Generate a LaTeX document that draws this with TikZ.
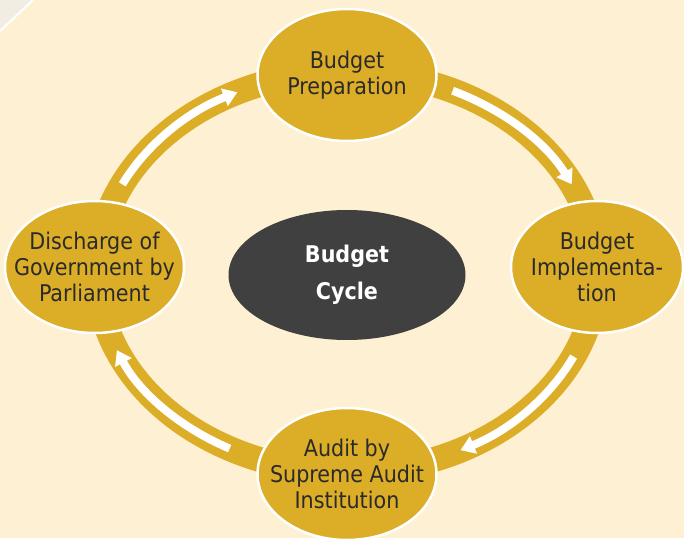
\documentclass[tikz,border=0pt]{standalone}
\usepackage{fontspec}
\setmainfont{DejaVu Sans Condensed}
\usepackage{tikz}
\usetikzlibrary{shapes.geometric}
\usetikzlibrary{arrows.meta}

\definecolor{cream}{HTML}{FEF0D3}
\definecolor{gold}{HTML}{DCAD27}
\definecolor{coal}{HTML}{404040}
\definecolor{ink}{HTML}{2A2A2A}
\definecolor{cornergrey}{HTML}{F1EDE2}

\begin{document}
\begin{tikzpicture} [
    x=1pt, y=1pt,
    ]
% -------------------------------------------------
\tikzset{
  txt/.style={align=center, text=ink, font=\fontsize{23}{26}\selectfont},
  stage/.style={ellipse, draw=white, line width=2.5pt, fill=gold, inner sep=0pt,
                minimum width=179pt, minimum height=132pt},
  core/.style={ellipse, fill=coal, inner sep=0pt, align=center, text=white,
               font=\bfseries\fontsize{23}{37}\selectfont,
               minimum width=237pt, minimum height=130pt},
  ring/.style={draw=gold, line width=25pt},
  flow/.style={draw=white, line width=8pt, -{Triangle[width=18pt,length=14pt]}}
}

    \useasboundingbox (0,0) rectangle (684,538);
    \fill[cream] (0,0) rectangle (684,538);                          % page
    \fill[cornergrey] (0,538) -- (0,507) -- (33,538) -- cycle;        % corner fold
    \draw[white, line width=2pt] (0,507) -- (33,538);

    \coordinate (mid) at (347,266);                                   % centre of the cycle

    \path [ring] (mid) ellipse [x radius=250, y radius=200];

    \foreach \s/\e in {154/116, 65/26, -25/-63, -118/-157}
      \path [flow] (mid) ++(\s:250 and 200)
            arc [start angle=\s, end angle=\e, x radius=250, y radius=200];

    \node [core, yshift=-3pt] at (mid) (cyc) {Budget\\Cycle};

    \node [stage, yshift=197pt, label={[txt]center:{Budget\\Preparation}}] at (mid) (prep) {};
    \node [stage, xshift=250pt, yshift=5pt, minimum width=172pt,
           label={[txt]center:{Budget\\Implementa-\\tion}}] at (mid) (impl) {};
    \node [stage, yshift=-202pt, label={[txt]center:{Audit by\\Supreme Audit\\Institution}}] at (mid) (audit) {};
    \node [stage, xshift=-252.5pt, yshift=5pt,
           label={[txt]center:{Discharge of\\Government by\\Parliament}}] at (mid) (disc) {};

\end{tikzpicture}
\end{document}
